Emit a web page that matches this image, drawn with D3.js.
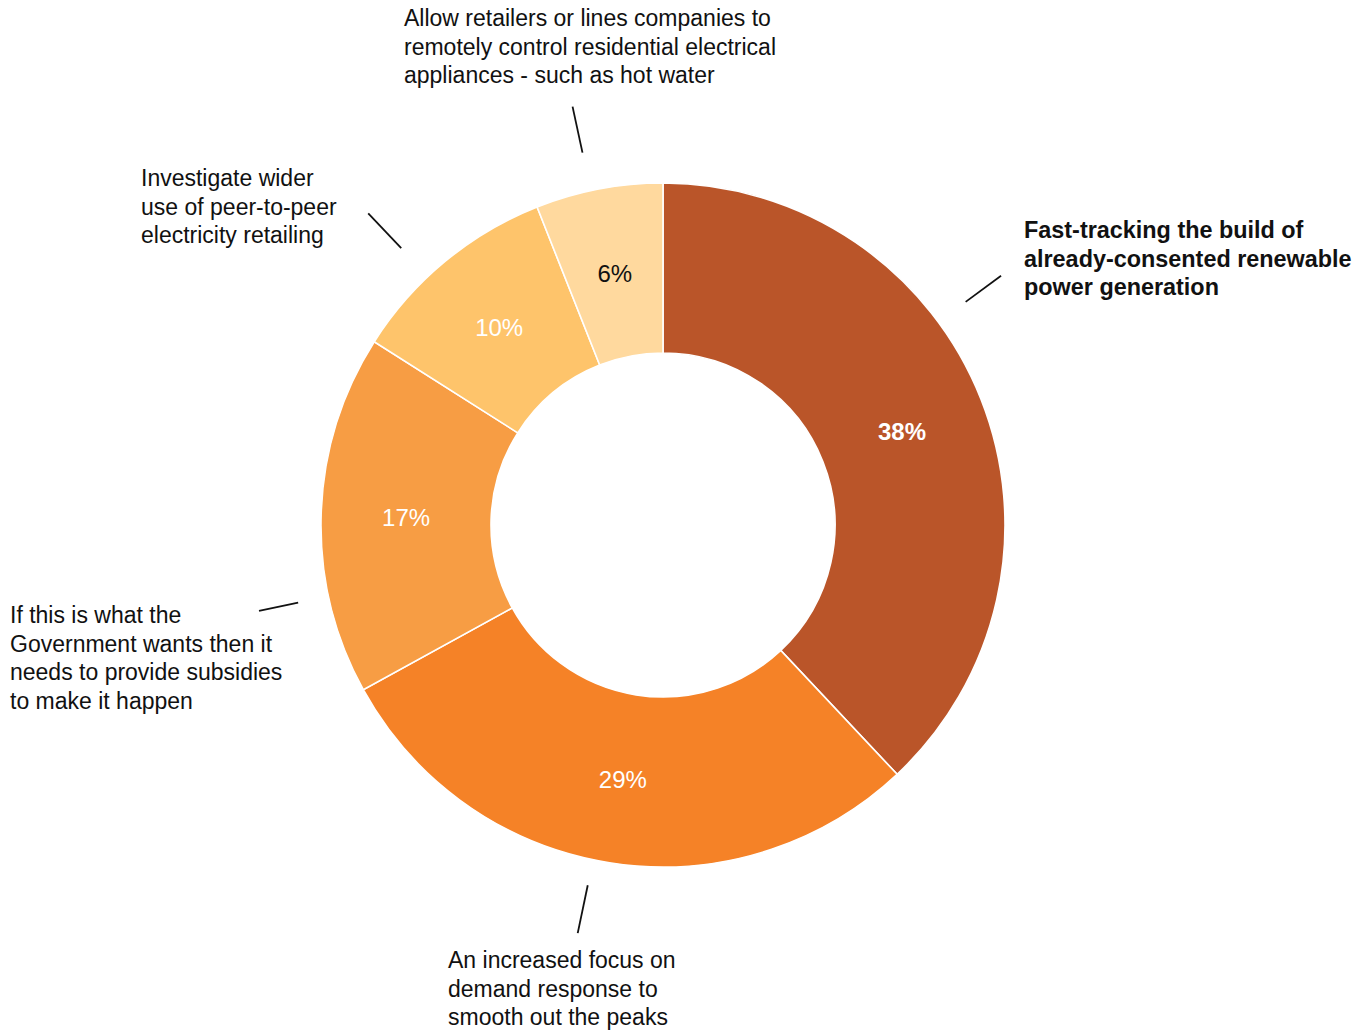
<!DOCTYPE html>
<html>
<head>
<meta charset="utf-8">
<script src="https://cdn.jsdelivr.net/npm/d3@7"></script>
<style>
  html, body { margin: 0; padding: 0; background: #fff; }
  svg { display: block; }
  text { font-family: "Liberation Sans", Arial, Helvetica, sans-serif; }
</style>
</head>
<body>
<svg id="chart" width="1371" height="1031"></svg>
<script>
// Survey responses, in clockwise order from 12 o'clock
const categories = [
  "Fast-tracking the build of already-consented renewable power generation",
  "An increased focus on demand response to smooth out the peaks",
  "If this is what the Government wants then it needs to provide subsidies to make it happen",
  "Investigate wider use of peer-to-peer electricity retailing",
  "Allow retailers or lines companies to remotely control residential electrical appliances - such as hot water"
];
const values = [38, 29, 17, 10, 6];
const valueLabels = ["38%", "29%", "17%", "10%", "6%"];
const labelLines = [
  ["Fast-tracking the build of", "already-consented renewable", "power generation"],
  ["An increased focus on", "demand response to", "smooth out the peaks"],
  ["If this is what the", "Government wants then it", "needs to provide subsidies", "to make it happen"],
  ["Investigate wider", "use of peer-to-peer", "electricity retailing"],
  ["Allow retailers or lines companies to", "remotely control residential electrical", "appliances - such as hot water"]
];
const colors = ["#BA5529", "#F58227", "#F79D44", "#FEC46B", "#FFD99E"];

// Callout layout: leader angle (deg, clockwise from top), leader radii, text block origin
const callouts = [
  { angle: 53.6,  r0: 376, r1: 420, x: 1024, y: 238, bold: true },
  { angle: 191.8, r0: 368, r1: 417, x: 448,  y: 968 },
  { angle: 258,   r0: 373, r1: 413, x: 10,   y: 623 },
  { angle: 316.6, r0: 381, r1: 429, x: 141,  y: 186 },
  { angle: 347.8, r0: 381, r1: 428, x: 404,  y: 26 }
];

const cx = 663, cy = 525, outerR = 342, innerR = 172;
const lineHeight = 28.6;

const svg = d3.select("#chart");
const g = svg.append("g").attr("transform", `translate(${cx},${cy})`);

const pie = d3.pie().sort(null).value(d => d.value);
const arcs = pie(values.map((v, i) => ({ value: v, i })));
const arc = d3.arc().innerRadius(innerR).outerRadius(outerR);

g.selectAll("path.slice")
  .data(arcs)
  .join("path")
  .attr("class", "slice")
  .attr("d", arc)
  .attr("fill", d => colors[d.data.i])
  .attr("stroke", "#fff")
  .attr("stroke-width", 1.6);

// Percentage labels at each slice centroid
g.selectAll("text.pct")
  .data(arcs)
  .join("text")
  .attr("class", "pct")
  .attr("transform", d => `translate(${arc.centroid(d)})`)
  .attr("text-anchor", "middle")
  .attr("dy", "0.38em")
  .attr("font-size", 24)
  .attr("font-weight", d => d.data.i === 0 ? "bold" : "normal")
  .attr("fill", d => d.data.i === 4 ? "#111" : "#fff")
  .text(d => valueLabels[d.data.i]);

// Leader lines
const toXY = (deg, r) => {
  const a = deg * Math.PI / 180;
  return [r * Math.sin(a), -r * Math.cos(a)];
};
g.selectAll("line.leader")
  .data(callouts)
  .join("line")
  .attr("class", "leader")
  .attr("x1", d => toXY(d.angle, d.r0)[0])
  .attr("y1", d => toXY(d.angle, d.r0)[1])
  .attr("x2", d => toXY(d.angle, d.r1)[0])
  .attr("y2", d => toXY(d.angle, d.r1)[1])
  .attr("stroke", "#111")
  .attr("stroke-width", 1.8);

// Category text blocks
const blocks = svg.selectAll("text.cat")
  .data(callouts)
  .join("text")
  .attr("class", "cat")
  .attr("x", d => d.x)
  .attr("y", d => d.y)
  .attr("font-size", d => d.bold ? 23.4 : 23)
  .attr("font-weight", d => d.bold ? "bold" : "normal")
  .attr("fill", "#111");

blocks.each(function(d, i) {
  d3.select(this).selectAll("tspan")
    .data(labelLines[i])
    .join("tspan")
    .attr("x", d.x)
    .attr("dy", (t, j) => j === 0 ? 0 : lineHeight)
    .text(t => t);
});
</script>
</body>
</html>
